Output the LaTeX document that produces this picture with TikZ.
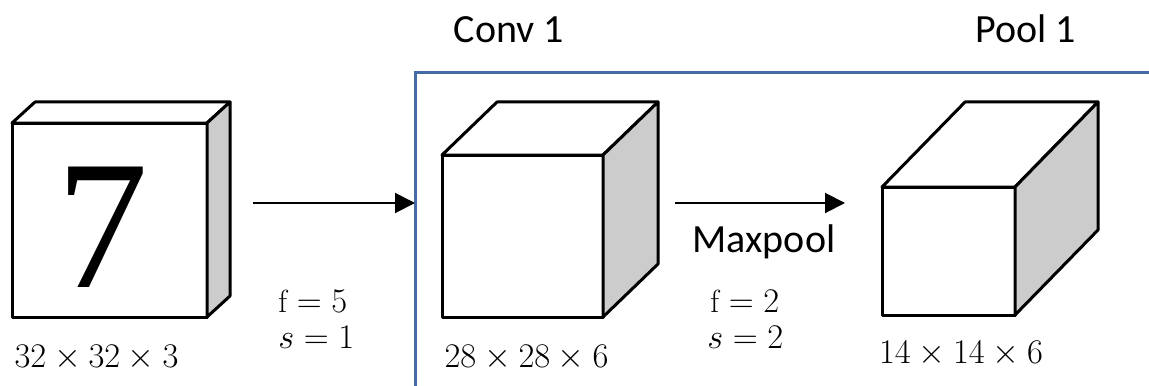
\documentclass[tikz,border=0pt]{standalone}
\usepackage{amsmath}
\usepackage{fontspec}
\usepackage{tikz}
\usetikzlibrary{arrows.meta, positioning, calc}
\setsansfont{Carlito}
\newfontfamily\sevenface{Liberation Serif}
\definecolor{cFrame}{RGB}{68,108,168}
\definecolor{cSide}{RGB}{204,204,204}
\tikzset{
	face/.style     ={rectangle, draw=black, line width=1.5pt, line join=round, fill=white, inner sep=0pt, outer sep=0pt},
	edge/.style     ={draw=black, line width=1.5pt, line join=round},
	flowarrow/.style={-{Triangle[length=10pt, width=10pt]}, line width=1pt},
	frame/.style    ={cFrame, line width=1.5pt},
	% text styles
	title/.style    ={font=\sffamily\fontsize{20}{24}\selectfont, anchor=base, inner sep=0pt},
	dims/.style     ={font=\fontsize{16}{19}\selectfont, anchor=base, inner sep=0pt},
	hyper/.style    ={font=\fontsize{16}{19}\selectfont, anchor=base west, inner sep=0pt},
}
% top and side face of a cube behind front node #1, depth (#2,#3)
\newcommand{\cubeback}[3]{%
	\draw[edge, fill=white] (#1.north west) -- ++(#2,#3) -- ([shift={(#2,#3)}]#1.north east) -- (#1.north east) -- cycle;
	\draw[edge, fill=cSide] (#1.north east) -- ++(#2,#3) -- ([shift={(#2,#3)}]#1.south east) -- (#1.south east) -- cycle;
}

\begin{document}
\begin{tikzpicture}[x=0.5pt, y=-0.5pt]
	\useasboundingbox (0,0) rectangle (1149,385);
	% conv + pool frame
	\draw[frame] (415,390) -- (415,73) -- (1155,73);
	% input
	\node[face, minimum width=97.5pt, minimum height=97pt] (inp) at (109.5,220) {};
	\cubeback{inp}{11.5pt}{10.5pt}
	\node[font=\sevenface\fontsize{92}{92}\selectfont, inner sep=0pt] (digit) at (102.5,227.5) {7};
	% conv 1
	\node[face, minimum width=80.5pt, minimum height=81pt] (conv) at (522.5,236) {};
	\cubeback{conv}{27.5pt}{26.5pt}
	% pool 1
	\node[face, minimum width=66.5pt, minimum height=64pt] (pool) at (948.5,251) {};
	\cubeback{pool}{41.5pt}{42.5pt}
	% arrows
	\coordinate (convtail) at (253,203);
	\coordinate (convin) at (415,203);
	\coordinate (pooltail) at (675,203);
	\coordinate (poolin) at (845,203);
	\draw[flowarrow] (convtail) -- (convin);
	\draw[flowarrow] (pooltail) -- (poolin);
	% labels
	\node[title] (convttl) at (509,43) {Conv 1};
	\node[title] (poolttl) at (1026,43) {Pool 1};
	\node[title] (mxp) at (764,252) {Maxpool};
	\node[dims] (inpdim) at (96.5,367) {$32 \times 32 \times 3$};
	\node[dims] (convdim) at (526.5,367) {$28 \times 28 \times 6$};
	\node[dims] (pooldim) at (961,363) {$14 \times 14 \times 6$};
	\node[hyper] (f1) at (278,312) {$\mathrm{f} = 5$};
	\node[hyper] (s1) at (278,348) {$s = 1$};
	\node[hyper] (f2) at (710,312) {$\mathrm{f} = 2$};
	\node[hyper] (s2) at (707,348) {$s = 2$};
\end{tikzpicture}
\end{document}
